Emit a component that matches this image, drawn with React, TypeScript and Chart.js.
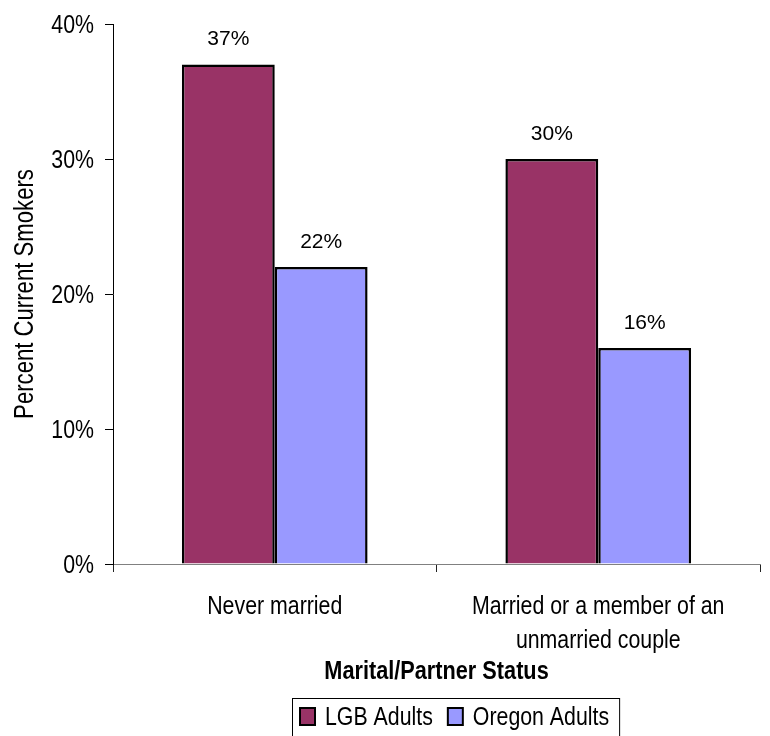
import { useEffect, useRef } from "react";
import { Chart, registerables } from "chart.js";

Chart.register(...registerables);

// Chart content
const categories: string[][] = [
  ["Never married"],
  ["Married or a member of an", "unmarried couple"],
];
const seriesNames = ["LGB Adults", "Oregon Adults"];
const lgbValues = [37, 30];
const oregonValues = [22, 16];
const yMax = 40;
const yStep = 10;
const yAxisTitle = "Percent Current Smokers";
const xAxisTitle = "Marital/Partner Status";
const seriesColors = ["#993366", "#9999FF"];

const SANS = '"Liberation Sans", Arial, sans-serif';
// Arial Narrow look: Liberation Sans squeezed horizontally
const NARROW_SCALE = 0.82;

function narrowText(
  ctx: CanvasRenderingContext2D,
  text: string,
  x: number,
  y: number,
  align: CanvasTextAlign,
  font: string,
  rotate = 0,
  sx = NARROW_SCALE
) {
  ctx.save();
  ctx.font = font;
  ctx.fillStyle = "#000";
  ctx.textAlign = align;
  ctx.textBaseline = "alphabetic";
  ctx.translate(x, y);
  if (rotate) ctx.rotate(rotate);
  ctx.scale(sx, 1);
  ctx.fillText(text, 0, 0);
  const w = ctx.measureText(text).width * sx;
  ctx.restore();
  return w;
}

// Percentage labels above every bar
const valueLabels = {
  id: "valueLabels",
  afterDatasetsDraw(chart: any) {
    const ctx = chart.ctx;
    ctx.save();
    ctx.font = `21px ${SANS}`;
    ctx.fillStyle = "#000";
    ctx.textAlign = "center";
    ctx.textBaseline = "middle";
    chart.data.datasets.forEach((ds: any, i: number) => {
      chart.getDatasetMeta(i).data.forEach((bar: any, j: number) => {
        ctx.fillText(`${ds.data[j]}%`, bar.x, bar.y - 25);
      });
    });
    ctx.restore();
  },
};

// Axis labels, titles and the boxed legend, all in the narrow face
const narrowLabels = {
  id: "narrowLabels",
  afterDraw(chart: any) {
    const ctx: CanvasRenderingContext2D = chart.ctx;
    const area = chart.chartArea;
    const xScale = chart.scales.x;
    const yScale = chart.scales.y;
    const font = `26px ${SANS}`;

    // y tick labels
    yScale.ticks.forEach((t: any, i: number) => {
      const py = yScale.getPixelForTick(i);
      narrowText(ctx, `${t.value}%`, 94, py + 9, "right", font);
    });

    // category labels
    chart.data.labels.forEach((lines: string[], i: number) => {
      const px = xScale.getPixelForTick(i);
      lines.forEach((line, k) => {
        narrowText(ctx, line, px, 614 + k * 34, "center", font);
      });
    });

    // y axis title
    narrowText(ctx, yAxisTitle, 33, (area.top + area.bottom) / 2, "center", `27px ${SANS}`, -Math.PI / 2);

    // x axis title
    narrowText(ctx, xAxisTitle, (area.left + area.right) / 2, 679, "center", `bold 26px ${SANS}`, 0, 0.835);

    // legend
    const left = 292;
    const top = 698;
    let x = left + 8;
    ctx.save();
    chart.data.datasets.forEach((ds: any) => {
      ctx.fillStyle = ds.backgroundColor;
      ctx.fillRect(x, 708, 15, 17);
      ctx.lineWidth = 2;
      ctx.strokeStyle = "#000";
      ctx.strokeRect(x, 708, 15, 17);
      const w = narrowText(ctx, ds.label, x + 25, 725, "left", font);
      x += 25 + w + 15;
    });
    ctx.lineWidth = 1;
    ctx.strokeStyle = "#000";
    ctx.strokeRect(left + 0.5, top + 0.5, x - 5 - left, 60);
    ctx.restore();
  },
};

export default function App() {
  const canvasRef = useRef<HTMLCanvasElement | null>(null);

  useEffect(() => {
    if (!canvasRef.current) return;
    const chart = new Chart(canvasRef.current, {
      type: "bar",
      data: {
        labels: categories as any,
        datasets: [
          {
            label: seriesNames[0],
            data: lgbValues,
            backgroundColor: seriesColors[0],
            borderColor: "#000",
            borderWidth: 2.5,
            categoryPercentage: 0.574,
            barPercentage: 1,
          },
          {
            label: seriesNames[1],
            data: oregonValues,
            backgroundColor: seriesColors[1],
            borderColor: "#000",
            borderWidth: 2.5,
            categoryPercentage: 0.574,
            barPercentage: 1,
          },
        ],
      },
      options: {
        responsive: false,
        animation: false,
        layout: { padding: { left: 0, top: 24, right: 10, bottom: 0 } },
        plugins: {
          legend: { display: false },
          tooltip: { enabled: false },
        },
        scales: {
          x: {
            grid: {
              offset: true,
              drawOnChartArea: false,
              drawTicks: true,
              tickLength: 8,
              color: "#222",
            },
            border: { display: true, color: "#808080", width: 1 },
            ticks: { display: false, autoSkip: false },
            afterFit(scale: any) {
              scale.height = 172;
            },
          },
          y: {
            min: 0,
            max: yMax,
            ticks: { stepSize: yStep, display: false },
            grid: {
              drawOnChartArea: false,
              drawTicks: true,
              tickLength: 8,
              color: "#000",
            },
            border: { display: true, color: "#000", width: 1 },
            afterFit(scale: any) {
              scale.width = 113;
            },
          },
        },
      },
      plugins: [valueLabels, narrowLabels],
    });
    return () => chart.destroy();
  }, []);

  return (
    <div style={{ position: "absolute", left: 0, top: 0, width: 770, height: 736, background: "#fff" }}>
      <canvas ref={canvasRef} width={770} height={736} />
    </div>
  );
}
